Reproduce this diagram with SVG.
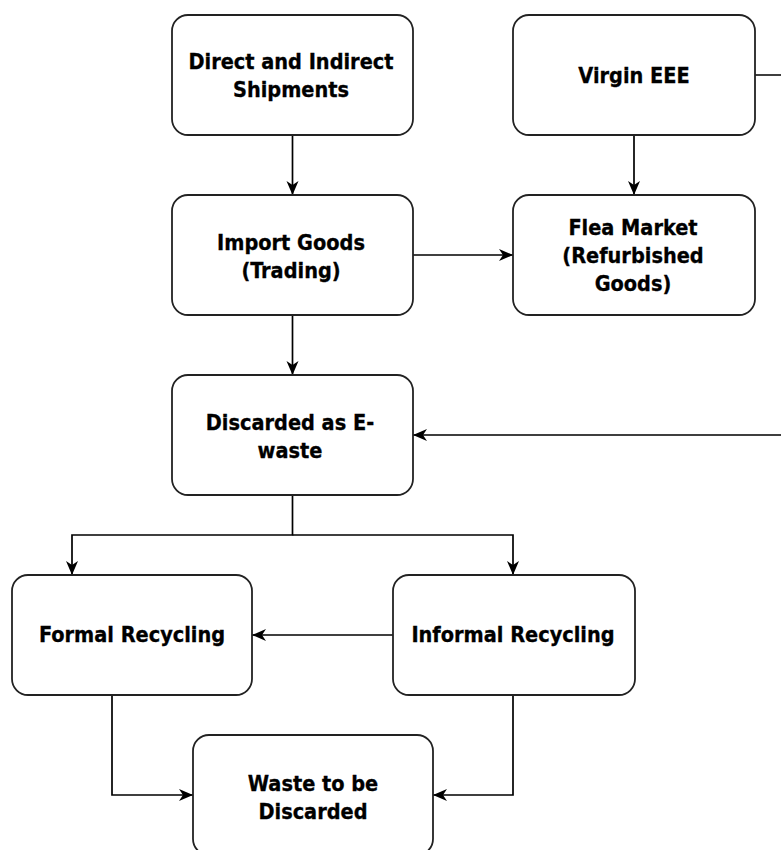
<svg xmlns="http://www.w3.org/2000/svg" width="781" height="850" viewBox="0 0 781 850">
<style>
.box{fill:#fff;stroke:#222;stroke-width:1.8}
.lbl{font-family:"DejaVu Sans Condensed","DejaVu Sans",sans-serif;font-stretch:condensed;font-weight:bold;font-size:21.5px;fill:#000;stroke:#000;stroke-width:0.3;text-anchor:middle}
.conn{fill:none;stroke:#000;stroke-width:1.7}
</style>
<defs>
<marker id="arr" markerWidth="16" markerHeight="16" viewBox="0 0 16 16" refX="15" refY="8" orient="auto" markerUnits="userSpaceOnUse">
<path d="M1,2 L15,8 L1,14 L5,8 z" fill="#000"/>
</marker>
</defs>
<rect width="781" height="850" fill="#fff"/>
<g id="connectors">
<path class="conn" d="M292.5,135 V195" marker-end="url(#arr)"/>
<path class="conn" d="M634,135 V195" marker-end="url(#arr)"/>
<path class="conn" d="M413,255 H513" marker-end="url(#arr)"/>
<path class="conn" d="M292.5,315 V375" marker-end="url(#arr)"/>
<path class="conn" d="M755,75 H783 V435 H413" marker-end="url(#arr)"/>
<path class="conn" d="M292.5,495 V535 H72 V575" marker-end="url(#arr)"/>
<path class="conn" d="M292.5,535 H513 V575" marker-end="url(#arr)"/>
<path class="conn" d="M393,635 H252" marker-end="url(#arr)"/>
<path class="conn" d="M112,695 V795 H193" marker-end="url(#arr)"/>
<path class="conn" d="M513,695 V795 H433" marker-end="url(#arr)"/>
</g>
<g id="direct">
<rect class="box" x="172" y="15" width="241" height="120" rx="16"/>
<text class="lbl" x="291" y="69">Direct and Indirect</text>
<text class="lbl" x="291" y="97">Shipments</text>
</g>
<g id="virgin">
<rect class="box" x="513" y="15" width="242" height="120" rx="16"/>
<text class="lbl" x="634" y="83">Virgin EEE</text>
</g>
<g id="import">
<rect class="box" x="172" y="195" width="241" height="120" rx="16"/>
<text class="lbl" x="291" y="250">Import Goods</text>
<text class="lbl" x="291" y="278">(Trading)</text>
</g>
<g id="flea">
<rect class="box" x="513" y="195" width="242" height="120" rx="16"/>
<text class="lbl" x="633" y="235">Flea Market</text>
<text class="lbl" x="633" y="263">(Refurbished</text>
<text class="lbl" x="633" y="291">Goods)</text>
</g>
<g id="discarded">
<rect class="box" x="172" y="375" width="241" height="120" rx="16"/>
<text class="lbl" x="290" y="430">Discarded as E-</text>
<text class="lbl" x="290" y="458">waste</text>
</g>
<g id="formal">
<rect class="box" x="12" y="575" width="240" height="120" rx="16"/>
<text class="lbl" x="132" y="642">Formal Recycling</text>
</g>
<g id="informal">
<rect class="box" x="393" y="575" width="242" height="120" rx="16"/>
<text class="lbl" x="513" y="642">Informal Recycling</text>
</g>
<g id="waste">
<rect class="box" x="193" y="735" width="240" height="120" rx="16"/>
<text class="lbl" x="313" y="791">Waste to be</text>
<text class="lbl" x="313" y="819">Discarded</text>
</g>
</svg>
